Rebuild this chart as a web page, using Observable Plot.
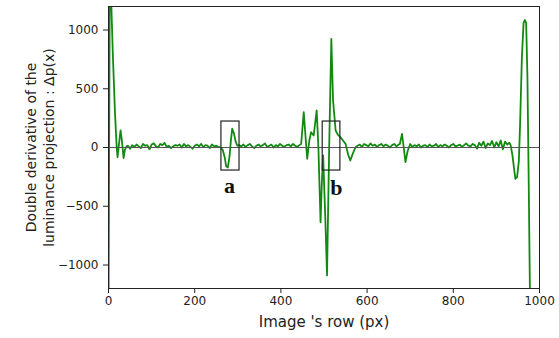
<!DOCTYPE html>
<html><head><meta charset="utf-8">
<script src="https://cdn.jsdelivr.net/npm/d3@7"></script>
<script src="https://cdn.jsdelivr.net/npm/@observablehq/plot@0.6"></script>
<style>body{margin:0;background:#fff;} svg{display:block;}</style>
</head><body><div id="chart"></div>
<script>
const rows = [0,3,5,10,15,19,21,24,28,31,35,38,42,
45,50,55,60,65,70,75,80,85,90,95,100,105,110,115,120,125,130,135,140,145,150,155,160,165,170,175,180,185,190,195,200,205,210,215,220,225,230,235,240,245,250,255,
260,265,270,273,277,281,284,287,291,295,299,303,
308,313,318,323,328,333,338,343,348,353,358,363,368,373,378,383,388,393,398,403,408,413,418,423,428,433,438,443,
447,453,457,461,466,470,476,483,487,492,495,498,503,507,512,517,521,527,532,538,544,550,556,561,567,573,
578,583,588,593,598,603,608,613,618,623,628,633,638,643,648,653,658,663,668,673,
676,681,685,689,694,700,
705,710,715,720,725,730,735,740,745,750,755,760,765,770,775,780,785,790,795,800,805,810,815,820,825,830,835,840,845,850,855,860,865,870,875,880,885,890,895,900,905,910,915,920,925,930,
933,937,941,944,948,952,955,959,963,966,969,972,975,978,985,1000];
const delta = [-1500,1500,1400,800,300,0,-83,20,145,60,-90,-20,10,
15,-10,20,5,25,10,-5,30,15,20,-15,25,35,10,0,30,20,40,5,15,-5,10,20,15,25,0,30,10,20,5,-10,15,25,10,30,5,20,15,-5,25,10,15,5,
0,-20,-90,-160,-170,-70,60,160,120,50,15,20,
10,25,5,20,30,10,-5,15,25,10,20,35,5,15,25,0,20,10,30,15,5,20,25,10,30,15,5,20,
31,300,100,-96,60,130,102,315,0,-636,-300,-68,-600,-1089,0,925,400,145,110,88,60,31,-60,-111,-50,0,
15,25,5,30,20,10,35,15,25,5,20,30,10,25,15,0,20,30,10,25,
30,116,0,-125,-30,30,
5,20,10,25,0,15,20,5,25,10,15,30,5,20,10,25,15,0,20,30,10,15,25,5,20,35,15,10,30,20,-10,40,15,50,-5,35,20,55,0,45,10,60,-15,50,25,40,
20,-60,-180,-267,-252,-120,200,750,1060,1085,1060,600,-300,-1300,-1500,-1500];
const xTicks = [0,200,400,600,800,1000];
const yTicks = [-1000,-500,0,500,1000];
const boxNames = ["a","b"];
const boxX1 = [262,497], boxX2 = [304,538];
const boxY1 = [-196,-196], boxY2 = [221,221];
const labelX = [281,529], labelY = [-330,-345];

const data = rows.map((r,i)=>({r, v: delta[i]}));
const boxes = boxNames.map((n,i)=>({n, x1:boxX1[i], x2:boxX2[i], y1:boxY1[i], y2:boxY2[i], lx:labelX[i], ly:labelY[i]}));

const chart = Plot.plot({
  width: 559, height: 338,
  marginLeft: 108, marginRight: 20, marginTop: 6, marginBottom: 50,
  style: {fontFamily: "DejaVu Sans", fontSize: "12px", color: "#222", background: "#fff"},
  x: {domain: [0,1000], ticks: xTicks, tickSize: 5, label: null, tickPadding: 3, tickFormat: d => String(d)},
  y: {domain: [-1200,1200], ticks: yTicks, tickSize: 5, label: null, tickPadding: 5, tickFormat: d => d < 0 ? "\u2212" + Math.abs(d) : String(d)},
  marks: [
    Plot.line(data, {x: "r", y: "v", stroke: "#128a12", strokeWidth: 1.8, clip: true}),
    Plot.ruleY([0], {stroke: "#555", strokeWidth: 1.2}),
    Plot.rect(boxes, {x1: "x1", x2: "x2", y1: "y1", y2: "y2", fill: "none", stroke: "#222", strokeWidth: 1.2}),
    Plot.text(boxes, {x: "lx", y: "ly", text: "n", fontFamily: "Liberation Serif", fontWeight: "bold", fontSize: 22, fill: "#111"}),
    Plot.frame({stroke: "#222", strokeWidth: 1}),
    Plot.text(["Image 's row (px)"], {frameAnchor: "bottom", dy: 38, fontSize: 15, fill: "#222"}),
    Plot.text(["Double derivative of the\nluminance projection : \u0394p(x)"], {frameAnchor: "left", dx: -69, rotate: -90, textAnchor: "middle", fontSize: 14, lineHeight: 1.3, fill: "#222"})
  ]
});
document.getElementById("chart").appendChild(chart);
</script>
</body></html>
